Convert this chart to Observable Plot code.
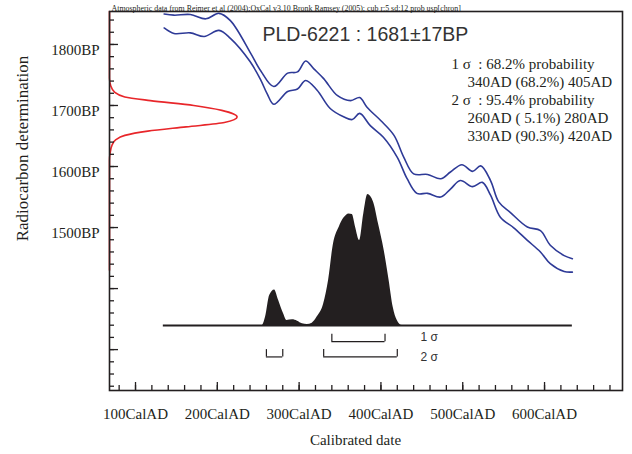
<!DOCTYPE html>
<html><head><meta charset="utf-8">
<script src="https://cdn.jsdelivr.net/npm/d3@7"></script>
<script src="https://cdn.jsdelivr.net/npm/@observablehq/plot@0.6"></script>
<style>
html,body{margin:0;padding:0;background:#fff;}
#chart svg{display:block;}
</style></head><body><div id="chart"></div>
<script>
// ---- data ----
const headerNote = "Atmospheric data from Reimer et al (2004);OxCal v3.10 Bronk Ramsey (2005); cub r:5 sd:12 prob usp[chron]";
const titleText = "PLD-6221 : 1681\u00b117BP";
const sigmaHeaders = ["1 \u03c3\u00a0\u00a0: 68.2% probability", "2 \u03c3\u00a0\u00a0: 95.4% probability"];
const rangeLines = ["340AD (68.2%) 405AD", "260AD ( 5.1%) 280AD", "330AD (90.3%) 420AD"];

// calibration curve (upper and lower bounds), calendar year AD vs BP
const upperYears = [135, 147, 167, 186, 202, 216, 241, 253, 269, 286, 298, 308, 318, 330, 347, 363, 374, 383, 400, 416, 428, 440, 457, 473, 485, 499, 512, 522, 534, 544, 558, 579, 595, 607, 624, 634];
const upperBP    = [1850, 1848, 1849, 1842, 1851, 1839, 1785, 1757, 1731, 1753, 1755, 1773, 1760, 1744, 1716, 1708, 1713, 1697, 1675, 1651, 1615, 1588, 1587, 1580, 1591, 1603, 1592, 1601, 1577, 1542, 1525, 1501, 1495, 1471, 1454, 1449];
const lowerYears = [135, 147, 167, 184, 202, 216, 240, 253, 261, 269, 286, 298, 308, 322, 338, 355, 365, 374, 387, 403, 420, 432, 444, 457, 473, 485, 497, 512, 524, 534, 546, 562, 579, 595, 607, 624, 634];
const lowerBP    = [1827, 1818, 1819, 1813, 1823, 1810, 1772, 1742, 1719, 1702, 1723, 1727, 1741, 1725, 1695, 1681, 1677, 1687, 1667, 1648, 1615, 1580, 1556, 1556, 1550, 1563, 1577, 1567, 1574, 1553, 1517, 1500, 1479, 1460, 1441, 1428, 1427];

// radiocarbon measurement distribution (relative density vs BP)
const measBP      = [1854, 1745, 1732, 1722, 1714, 1708, 1700, 1692, 1681, 1672, 1665, 1658, 1651, 1644, 1635, 1622, 1610, 1430];
const measDensity = [0,    0,    0.01, 0.04, 0.12, 0.32, 0.66, 0.88, 1.0,  0.9,  0.6,  0.3,  0.12, 0.05, 0.02, 0.005, 0,   0];

// calibrated probability distribution (relative)
const probYears = [134, 255, 259, 264, 270, 275, 281, 285, 292, 298, 304, 310, 316, 322, 330, 336, 342, 349, 355, 361, 365, 369, 374, 379, 384, 391, 397, 404, 410, 415, 420, 426, 634];
const probValues = [0, 0, 0.064, 0.229, 0.272, 0.191, 0.089, 0.038, 0.043, 0.033, 0.013, 0.008, 0.018, 0.064, 0.165, 0.344, 0.623, 0.751, 0.822, 0.852, 0.847, 0.751, 0.649, 0.852, 1.0, 0.941, 0.776, 0.573, 0.344, 0.140, 0.038, 0, 0];

// sigma ranges
const sigmaLevel = [1, 2, 2];
const rangeFrom  = [340, 260, 330];
const rangeTo    = [405, 280, 420];

// axis ticks
const xMajor = [100, 200, 300, 400, 500, 600];
const xMinor = d3.range(80, 700, 20);
const yMajor = [1300, 1400, 1500, 1600, 1700, 1800];
const yMinor = d3.range(1240, 1860, 20);
const yLabeled = [1500, 1600, 1700, 1800];

// ---- build tables ----
const upper = upperYears.map((x, i) => ({year: x, bp: upperBP[i]}));
const lower = lowerYears.map((x, i) => ({year: x, bp: lowerBP[i]}));
const meas = measBP.map((b, i) => ({bp: b, p: measDensity[i]}));
const prob = probYears.map((x, i) => ({year: x, p: probValues[i]}));
const ranges = sigmaLevel.map((s, i) => ({sigma: s, from: rangeFrom[i], to: rangeTo[i]}));
const rangeEnds = ranges.flatMap(r => [{sigma: r.sigma, x: r.from}, {sigma: r.sigma, x: r.to}]);

// ---- layout ----
const xDomain = [68.2, 695.3];
const yDomain = [1233, 1854];
const measAmp = 156;          // years of horizontal extent at the peak
const histBase = 1339.5, histAmp = 214.6;
const rowBP = {1: 1313, 2: 1288}, tickBP = 12;
const ink = "#231f20", blue = "#2e3a97", red = "#e8262a";
const serif = "'Liberation Serif','Times New Roman',serif";
const sans = "'Liberation Sans',Arial,sans-serif";

const chart = Plot.plot({
  width: 632, height: 454,
  marginLeft: 109, marginRight: 10, marginTop: 11, marginBottom: 64,
  x: {domain: xDomain},
  y: {domain: yDomain},
  style: {fontFamily: serif, fontSize: "15px", color: ink, background: "#fff"},
  marks: [
    // calibrated distribution
    Plot.areaY(prob, {x: "year", y1: histBase, y2: d => histBase + d.p * histAmp, fill: ink, curve: "monotone-x"}),
    Plot.ruleY([histBase], {x1: probYears[0], x2: probYears[probYears.length - 1], stroke: ink, strokeWidth: 2.2}),
    // sigma brackets
    Plot.ruleY(ranges, {x1: "from", x2: "to", y: d => rowBP[d.sigma], stroke: ink, strokeWidth: 1.2}),
    Plot.ruleX(rangeEnds, {x: "x", y1: d => rowBP[d.sigma], y2: d => rowBP[d.sigma] + tickBP, stroke: ink, strokeWidth: 1.2}),
    Plot.text(["1 \u03c3"], {frameAnchor: "top-left", dx: 311, dy: 326, textAnchor: "start", lineAnchor: "middle", fontFamily: sans, fontSize: 12, fill: "#333"}),
    Plot.text(["2 \u03c3"], {frameAnchor: "top-left", dx: 311, dy: 346, textAnchor: "start", lineAnchor: "middle", fontFamily: sans, fontSize: 12, fill: "#333"}),
    // calibration curve
    Plot.line(upper, {x: "year", y: "bp", stroke: blue, strokeWidth: 1.6, curve: "catmull-rom"}),
    Plot.line(lower, {x: "year", y: "bp", stroke: blue, strokeWidth: 1.6, curve: "catmull-rom"}),
    // measurement distribution
    Plot.line(meas, {x: d => xDomain[0] + d.p * measAmp, y: "bp", stroke: red, strokeWidth: 1.6, curve: "monotone-y"}),
    // axes
    Plot.axisY({ticks: yMajor, tickSize: -9, tickFormat: () => "", label: null, strokeWidth: 1.3}),
    Plot.axisY({ticks: yMinor, tickSize: -5, tickFormat: () => "", label: null, strokeWidth: 1.3}),
    Plot.axisY({ticks: yLabeled, tickSize: 0, tickPadding: 10, tickFormat: d => d + "BP", label: null, dy: 6, fontSize: 15}),
    Plot.axisX({ticks: xMajor, tickSize: -8, tickFormat: () => "", label: null, strokeWidth: 1.3}),
    Plot.axisX({ticks: xMinor, tickSize: -5, tickFormat: () => "", label: null, strokeWidth: 1.3}),
    Plot.axisX({ticks: xMajor, tickSize: 0, tickPadding: 18, tickFormat: d => d + "CalAD", label: null, fontSize: 15}),
    Plot.frame({stroke: ink, strokeWidth: 1.6}),
    // titles
    Plot.text(["Radiocarbon determination"], {frameAnchor: "left", dx: -87, dy: -52.5, rotate: -90, textAnchor: "middle", lineAnchor: "middle", fontSize: 17}),
    Plot.text(["Calibrated date"], {frameAnchor: "bottom", dx: -10.5, dy: 50, textAnchor: "middle", lineAnchor: "middle", fontSize: 15}),
    Plot.text([headerNote], {frameAnchor: "top-left", dx: 2, dy: -3.5, textAnchor: "start", lineAnchor: "middle", fontSize: 7.9}),
    Plot.text([titleText], {frameAnchor: "top-left", dx: 153, dy: 23, textAnchor: "start", lineAnchor: "middle", fontFamily: sans, fontSize: 19.5, fill: "#333"}),
    Plot.text([sigmaHeaders[0]], {frameAnchor: "top-left", dx: 342, dy: 53, textAnchor: "start", lineAnchor: "middle", fontSize: 15}),
    Plot.text([rangeLines[0]], {frameAnchor: "top-left", dx: 358, dy: 71, textAnchor: "start", lineAnchor: "middle", fontSize: 15}),
    Plot.text([sigmaHeaders[1]], {frameAnchor: "top-left", dx: 342, dy: 89, textAnchor: "start", lineAnchor: "middle", fontSize: 15}),
    Plot.text([rangeLines[1]], {frameAnchor: "top-left", dx: 358, dy: 107, textAnchor: "start", lineAnchor: "middle", fontSize: 15}),
    Plot.text([rangeLines[2]], {frameAnchor: "top-left", dx: 358, dy: 125, textAnchor: "start", lineAnchor: "middle", fontSize: 15})
  ]
});
document.getElementById("chart").appendChild(chart);
</script>
</body></html>
